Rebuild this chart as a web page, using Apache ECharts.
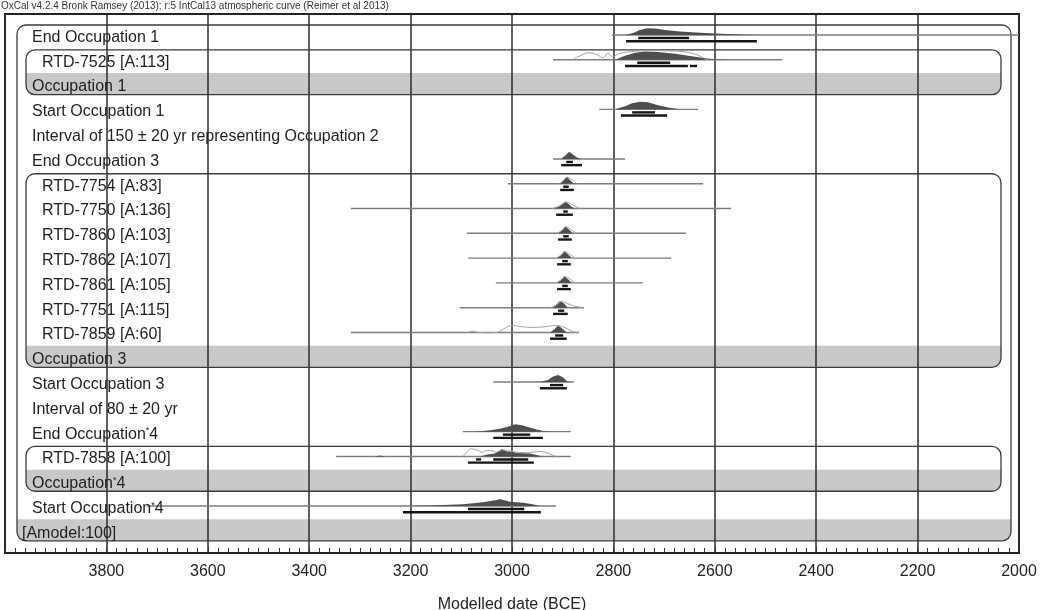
<!DOCTYPE html>
<html><head><meta charset="utf-8">
<script src="https://cdn.jsdelivr.net/npm/echarts@6/dist/echarts.min.js"></script>
<style>html,body{margin:0;padding:0;background:#fff}#c{width:1045px;height:610px}</style>
</head><body><div id="c"></div>
<script>
// ---------------- data ----------------
const titleText = 'OxCal v4.2.4 Bronk Ramsey (2013); r:5 IntCal13 atmospheric curve (Reimer et al 2013)';
const axisName = 'Modelled date (BCE)';
const axisMin = 2000, axisMax = 4000, axisStep = 200;

const rowLabels = [
  'End Occupation 1',
  'RTD-7525 [A:113]',
  'Occupation 1',
  'Start Occupation 1',
  'Interval of 150 \u00b1 20 yr representing Occupation 2',
  'End Occupation 3',
  'RTD-7754 [A:83]',
  'RTD-7750 [A:136]',
  'RTD-7860 [A:103]',
  'RTD-7862 [A:107]',
  'RTD-7861 [A:105]',
  'RTD-7751 [A:115]',
  'RTD-7859 [A:60]',
  'Occupation 3',
  'Start Occupation 3',
  'Interval of 80 \u00b1 20 yr',
  'End Occupation*4',
  'RTD-7858 [A:100]',
  'Occupation*4',
  'Start Occupation*4',
  '[Amodel:100]'
];

// groups (outer model first): first row and last (label) row
const groupFrom = [0, 1, 6, 17];
const groupTo   = [20, 2, 13, 18];

// baseline extent of each distribution (years BCE)
const baselines = [
  [2803, 2000], [2919, 2467], null, [2828, 2633], null, [2919, 2777],
  [3008, 2623], [3318, 2568], [3089, 2657], [3087, 2686], [3032, 2742],
  [3103, 2858], [3318, 2868], null, [3037, 2878], null, [3097, 2884],
  [3347, 2884], null, [3720, 2913], null
];

// modelled (posterior) densities: [year, relative probability]
const posterior = [
  [[2777,0],[2761,2],[2748,5],[2734,6.7],[2718,6.5],[2698,5],[2669,3.5],[2629,2.2],[2590,1.2],[2550,0.4],[2511,0]],
  [[2797,0],[2777,4],[2757,7],[2738,8.3],[2718,8],[2698,7],[2678,6],[2659,4.5],[2639,3],[2619,1.5],[2600,0.6],[2576,0]],
  null,
  [[2797,0],[2777,3],[2763,6],[2748,7.7],[2732,7],[2712,4],[2692,1.8],[2669,0]],
  null,
  [[2903,0],[2895,3.5],[2887,7.3],[2880,4.5],[2872,1.5],[2862,0]],
  [[2905,0],[2899,3.5],[2892,7],[2886,4],[2878,0]],
  [[2919,0],[2907,2],[2899,5],[2895,7],[2888,4.5],[2882,1.5],[2876,0]],
  [[2909,0],[2901,3],[2895,7],[2888,4],[2880,0]],
  [[2911,0],[2903,3],[2897,7],[2890,4],[2882,0]],
  [[2911,0],[2903,3],[2897,7],[2890,4],[2882,0]],
  [[2921,0],[2913,3],[2905,7],[2897,4],[2890,0]],
  [[2925,0],[2917,3],[2909,7],[2901,4],[2892,0]],
  null,
  [[2945,0],[2929,2],[2919,5.5],[2909,7],[2899,4.5],[2892,1],[2886,0]],
  null,
  [[3073,0],[3043,1.5],[3024,3],[3008,5],[2994,7.3],[2980,6.5],[2964,4],[2949,2],[2935,0.5],[2921,0]],
  [[3270,0],[3260,1],[3250,0],[3063,0],[3049,2],[3034,3],[3020,7.5],[3010,5],[3000,5],[2990,3.5],[2964,3],[2951,1.5],[2939,0]],
  null,
  [[3215,0],[3160,0.5],[3097,1.7],[3057,3.7],[3030,6],[3024,7],[3004,4.3],[2978,3.3],[2959,1.7],[2945,0]],
  null
];

// unmodelled (calibrated) densities: [year, relative probability]
const prior = [
  null,
  [[2880,0],[2866,4],[2850,7],[2834,5.5],[2820,2],[2811,6.5],[2801,3],[2787,6.5],[2757,8.5],[2728,9.3],[2698,9],[2669,8.5],[2649,7],[2635,5],[2623,2],[2613,0]],
  null, null, null, null,
  [[2907,0],[2899,3],[2892,6.5],[2884,5],[2872,0]],
  [[2921,0],[2907,2.5],[2897,6],[2890,6.5],[2880,3.5],[2866,0]],
  [[2911,0],[2899,4],[2893,6.5],[2884,4],[2874,0]],
  [[2913,0],[2901,4],[2895,6.5],[2886,4],[2876,0]],
  [[2913,0],[2901,4],[2895,6.5],[2886,4],[2876,0]],
  [[2923,0],[2911,3],[2903,6],[2890,4],[2876,1.5],[2860,0]],
  [[3087,0],[3077,1.5],[3067,0],[3030,0],[3018,3],[3008,6],[2998,7],[2984,6],[2959,5],[2931,6],[2915,7],[2905,6.5],[2892,4],[2880,1],[2872,0]],
  null, null, null, null,
  [[3097,0],[3089,4],[3083,7.5],[3069,6.5],[3059,4],[3053,5.5],[3043,6],[3030,4.3],[3018,6.5],[3004,5.5],[2990,4.3],[2970,3.7],[2959,4.3],[2945,5],[2931,3.7],[2919,1],[2913,0]],
  null, null, null
];

// highest posterior density ranges
const range68 = [
  [[2751,2651]], [[2753,2688]], null, [[2763,2718]], null, [[2893,2880]],
  [[2899,2888]], [[2899,2890]], [[2899,2888]], [[2901,2890]], [[2901,2890]],
  [[2909,2897]], [[2915,2899]], null, [[2925,2899]], null, [[3018,2964]],
  [[3071,3061],[3037,2968]], null, [[3087,2976]], null
];
const range95 = [
  [[2775,2517]], [[2777,2653],[2649,2635]], null, [[2785,2694]], null, [[2903,2862]],
  [[2905,2878]], [[2913,2880]], [[2909,2882]], [[2911,2884]], [[2911,2884]],
  [[2919,2890]], [[2925,2892]], null, [[2945,2892]], null, [[3037,2939]],
  [[3087,2957]], null, [[3215,2943]], null
];

// ---------------- style ----------------
const FONT = '"Liberation Sans", Arial, sans-serif';
const DPX = 1.0;             // px per unit of relative probability
const INDENT = [17, 27, 37]; // label offset from plot left, by nesting depth
const BOX_INSET_L = [12, 21], BOX_INSET_R = [8, 18];

function depthOfRow(r) {
  if (r === groupTo[0]) return 0;
  for (let g = 1; g < groupFrom.length; g++) {
    if (r === groupTo[g]) return 1;
    if (r >= groupFrom[g] && r < groupTo[g]) return 2;
  }
  return 1;
}

const chart = echarts.init(document.getElementById('c'), null, {renderer: 'canvas'});

function bandItem(params, api) {
  const g = params.dataIndex;
  const lvl = g === 0 ? 0 : 1;
  const yc = api.coord([axisMin, groupTo[g]])[1];
  const xl = api.coord([axisMax, 0])[0] + BOX_INSET_L[lvl];
  const xr = api.coord([axisMin, 0])[0] - BOX_INSET_R[lvl];
  return {type: 'rect', shape: {x: xl, y: yc - 11.5, width: xr - xl, height: 21.5, r: [0, 0, 9, 9]},
          style: {fill: '#c8c8c8'}};
}

function boxItem(params, api) {
  const g = params.dataIndex;
  const lvl = g === 0 ? 0 : 1;
  const yt = api.coord([axisMin, groupFrom[g]])[1] - 10;
  const yb = api.coord([axisMin, groupTo[g]])[1] + 10;
  const xl = api.coord([axisMax, 0])[0] + BOX_INSET_L[lvl];
  const xr = api.coord([axisMin, 0])[0] - BOX_INSET_R[lvl];
  return {type: 'rect', shape: {x: xl, y: yt, width: xr - xl, height: yb - yt, r: 9},
          style: {fill: 'none', stroke: '#3a3a3a', lineWidth: 1.3}};
}

function distItem(params, api) {
  const r = api.value(1);
  const y0 = api.coord([3000, r])[1];
  const px = v => api.coord([v, r])[0];
  const children = [];
  const b = baselines[r];
  if (b) children.push({type: 'line', shape: {x1: px(b[0]), y1: y0, x2: px(b[1]), y2: y0},
                        style: {stroke: '#7d7d7d', lineWidth: 1.4}});
  if (posterior[r]) {
    const pts = posterior[r].map(p => [px(p[0]), y0 - p[1] * DPX]);
    children.push({type: 'polygon', shape: {points: pts}, style: {fill: '#4e4e4e'}});
  }
  if (prior[r]) {
    const pts = prior[r].map(p => [px(p[0]), y0 - p[1] * DPX]);
    children.push({type: 'polyline', shape: {points: pts, smooth: 0.3},
                   style: {stroke: '#a5a5a5', lineWidth: 1, fill: 'none'}});
  }
  (range68[r] || []).forEach(s => {
    const a = px(s[0]), c = px(s[1]);
    children.push({type: 'rect', shape: {x: Math.min(a, c), y: y0 + 1.8, width: Math.abs(c - a), height: 2.4},
                   style: {fill: '#151515'}});
  });
  (range95[r] || []).forEach(s => {
    const a = px(s[0]), c = px(s[1]);
    children.push({type: 'rect', shape: {x: Math.min(a, c), y: y0 + 5, width: Math.abs(c - a), height: 2.4},
                   style: {fill: '#151515'}});
  });
  return {type: 'group', children};
}

function labelItem(params, api) {
  const r = api.value(1);
  const y = api.coord([3000, r])[1] + 2.5;
  const x = api.coord([axisMax, r])[0] + INDENT[depthOfRow(r)];
  return {type: 'text', x: x, y: y,
          style: {text: rowLabels[r].replace('*', '{s|*}'), fill: '#1e1e1e',
                  font: '16px ' + FONT, verticalAlign: 'middle', align: 'left',
                  rich: {s: {fontSize: 9, fontFamily: FONT, fill: '#1e1e1e', verticalAlign: 'top', padding: [0, 0, 6, 0]}}}};
}

const rowsData = rowLabels.map((_, i) => [3000, i]);
const groupData = groupFrom.map((_, g) => [3000, g]);

chart.setOption({
  backgroundColor: '#fff',
  animation: false,
  title: {text: titleText, left: 1, top: 1, padding: 0,
          textStyle: {fontSize: 10, fontWeight: 'normal', color: '#333', fontFamily: FONT}},
  grid: {left: 5, right: 26, top: 14, bottom: 57, show: true, borderColor: '#222', borderWidth: 2,
         backgroundColor: 'transparent', containLabel: false, outerBoundsMode: 'none'},
  xAxis: {
    type: 'value', min: axisMin, max: axisMax, interval: axisStep, inverse: true,
    axisLine: {show: false, onZero: false},
    axisTick: {show: true, inside: true, length: 6, lineStyle: {color: '#333', width: 1}},
    minorTick: {show: true, splitNumber: 10, length: 5, lineStyle: {color: '#333', width: 1}},
    splitLine: {show: true, lineStyle: {color: '#2b2b2b', width: 1.5}},
    axisLabel: {showMaxLabel: false, margin: 11, fontSize: 16, color: '#222', fontFamily: FONT,
                formatter: v => String(v)},
    name: axisName, nameLocation: 'middle', nameGap: 44,
    nameTextStyle: {fontSize: 16, color: '#222', fontFamily: FONT}
  },
  yAxis: {type: 'value', min: -0.847, max: 20.895, inverse: true, show: false},
  series: [
    {type: 'custom', z: -1, renderItem: bandItem, data: groupData, encode: {x: 0, y: 1}, silent: true},
    {type: 'custom', z: 3, renderItem: boxItem, data: groupData, encode: {x: 0, y: 1}, silent: true},
    {type: 'custom', z: 4, renderItem: distItem, data: rowsData, encode: {x: 0, y: 1}, silent: true, clip: true},
    {type: 'custom', z: 5, renderItem: labelItem, data: rowsData, encode: {x: 0, y: 1}, silent: true}
  ]
});
</script></body></html>
